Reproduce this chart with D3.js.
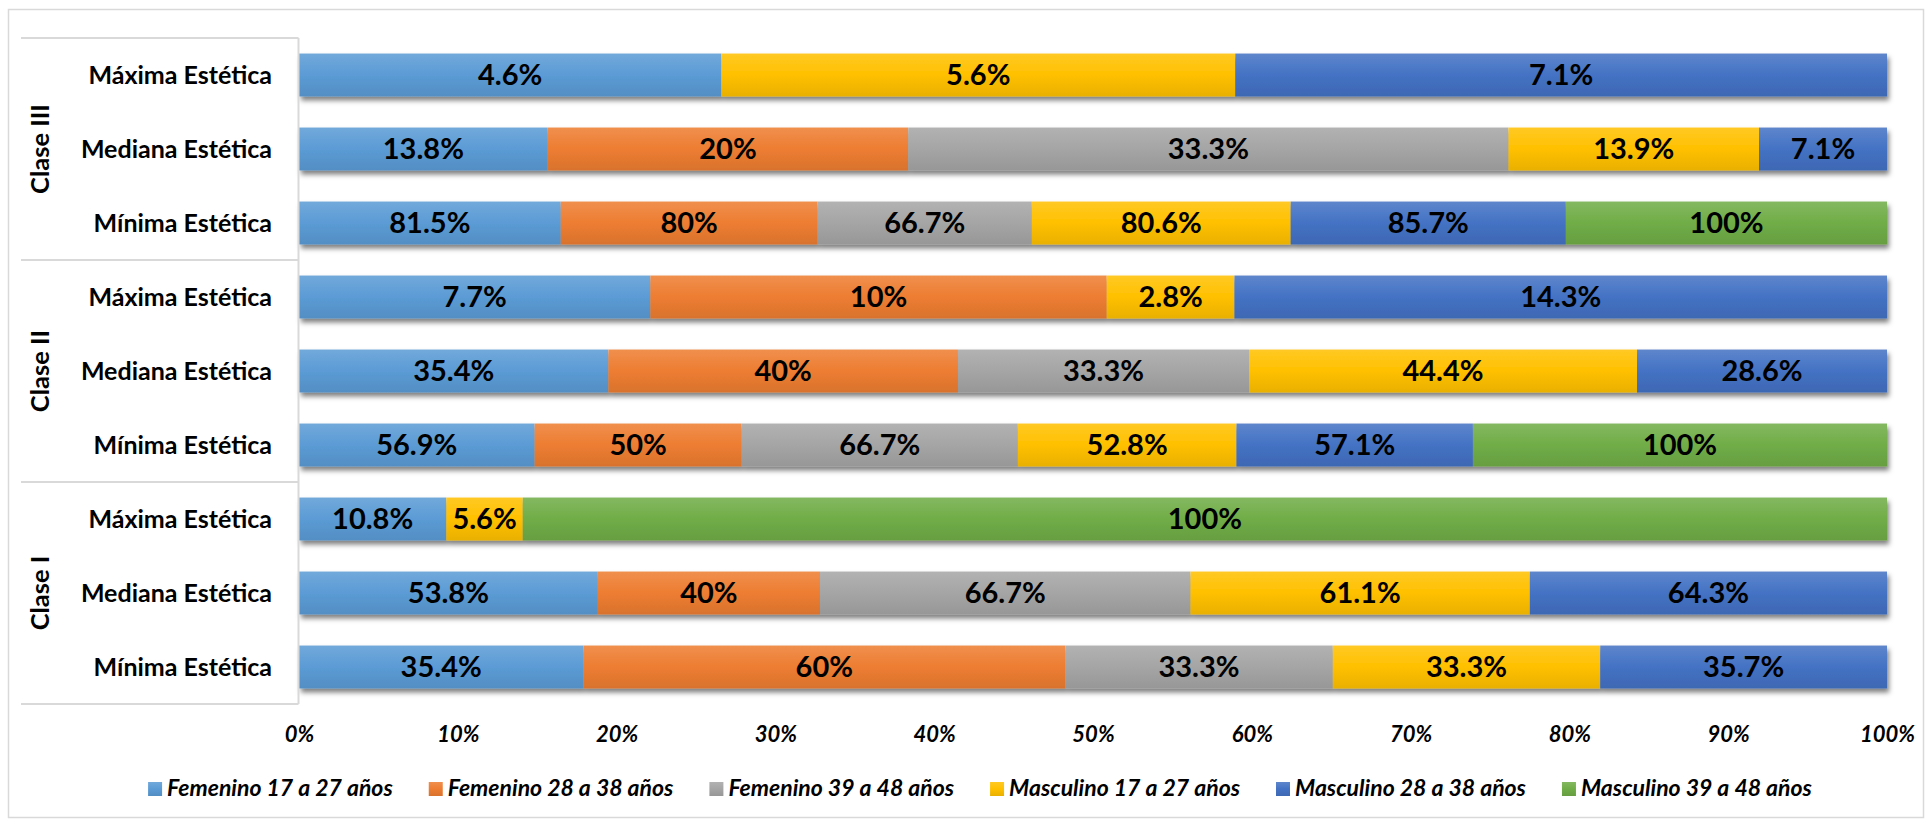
<!DOCTYPE html>
<html>
<head>
<meta charset="utf-8">
<script src="https://cdn.jsdelivr.net/npm/d3@7"></script>
<style>
  body { margin: 0; background: #fff; }
  svg text { font-family: Lato, "Open Sans", sans-serif; }
</style>
</head>
<body>
<div id="chart"></div>
<script>
// rows are listed top to bottom as they appear in the chart
const groups = ["Clase III", "Clase II", "Clase I"];
const levels = ["Máxima Estética", "Mediana Estética", "Mínima Estética"];
const seriesNames = [
    "Femenino 17 a 27 años", "Femenino 28 a 38 años", "Femenino 39 a 48 años",
    "Masculino 17 a 27 años", "Masculino 28 a 38 años", "Masculino 39 a 48 años"
];
const colors = ["#5B9BD5", "#ED7D31", "#A5A5A5", "#FFC000", "#4472C4", "#70AD47"];

const fem17 = [4.6, 13.8, 81.5, 7.7, 35.4, 56.9, 10.8, 53.8, 35.4];
const fem28 = [0, 20, 80, 10, 40, 50, 0, 40, 60];
const fem39 = [0, 33.3, 66.7, 0, 33.3, 66.7, 0, 66.7, 33.3];
const mas17 = [5.6, 13.9, 80.6, 2.8, 44.4, 52.8, 5.6, 61.1, 33.3];
const mas28 = [7.1, 7.1, 85.7, 14.3, 28.6, 57.1, 0, 64.3, 35.7];
const mas39 = [0, 0, 100, 0, 0, 100, 100, 0, 0];

const xTicks = [0, 0.1, 0.2, 0.3, 0.4, 0.5, 0.6, 0.7, 0.8, 0.9, 1];

const seriesValues = [fem17, fem28, fem39, mas17, mas28, mas39];
const keys = seriesNames.map((d, i) => "s" + i);

// build one record per row
const rows = [];
groups.forEach((g, gi) => {
    levels.forEach((l, li) => {
        const idx = gi * levels.length + li;
        const rec = { id: idx, group: g, level: l };
        keys.forEach((k, si) => rec[k] = seriesValues[si][idx]);
        rows.push(rec);
    });
});

const width = 1928, height = 820;
const svg = d3.select("#chart").append("svg")
    .attr("width", width)
    .attr("height", height);

const defs = svg.append("defs");
colors.forEach((c, i) => {
    const grad = defs.append("linearGradient")
        .attr("id", "grad" + i)
        .attr("x1", 0).attr("y1", 0).attr("x2", 0).attr("y2", 1);
    grad.append("stop").attr("offset", "0%").attr("stop-color", d3.interpolateRgb(c, "#fff")(0.14));
    grad.append("stop").attr("offset", "50%").attr("stop-color", c);
    grad.append("stop").attr("offset", "100%").attr("stop-color", d3.color(c).darker(0.25));
});
defs.append("filter")
    .attr("id", "shadow")
    .attr("x", "-2%").attr("y", "-20%").attr("width", "104%").attr("height", "160%")
    .append("feDropShadow")
    .attr("dx", 2).attr("dy", 4).attr("stdDeviation", 2.5)
    .attr("flood-color", "#000").attr("flood-opacity", 0.5);

// chart border
svg.append("rect")
    .attr("x", 8.5).attr("y", 9.5)
    .attr("width", 1915).attr("height", 808)
    .style("fill", "none")
    .style("stroke", "#d9d9d9")
    .style("stroke-width", 1.5);

const plotLeft = 299, plotRight = 1887, plotTop = 38, plotBottom = 704;

const x = d3.scaleLinear().domain([0, 1]).range([plotLeft, plotRight]);
const y = d3.scaleBand()
    .domain(rows.map(r => r.id))
    .range([plotTop, plotBottom])
    .paddingInner(0.42)
    .paddingOuter(0.21);

const stack = d3.stack()
    .keys(keys)
    .offset(d3.stackOffsetExpand);
const stacked = stack(rows);

// bars
const barLayer = svg.append("g").style("filter", "url(#shadow)");
const layers = barLayer.selectAll(".layer")
    .data(stacked)
    .enter()
    .append("g")
    .attr("class", "layer")
    .style("fill", (d, i) => `url(#grad${i})`);

layers.selectAll("rect")
    .data(d => d.filter(p => p[1] - p[0] > 0))
    .enter()
    .append("rect")
    .attr("x", d => x(d[0]))
    .attr("y", d => y(d.data.id))
    .attr("width", d => x(d[1]) - x(d[0]))
    .attr("height", y.bandwidth());

// data labels
const labelLayer = svg.append("g");
stacked.forEach((layer, si) => {
    labelLayer.selectAll(".lbl" + si)
        .data(layer.filter(p => p[1] - p[0] > 0))
        .enter()
        .append("text")
        .attr("x", d => (x(d[0]) + x(d[1])) / 2)
        .attr("y", d => y(d.data.id) + y.bandwidth() / 2)
        .attr("dy", "0.36em")
        .style("text-anchor", "middle")
        .style("font-size", "29px")
        .style("font-weight", "bold")
        .style("fill", "#000")
        .text(d => d.data[keys[si]] + "%");
});

// category axis: lines and labels
const axisColor = "#d9d9d9";
const step = y.step();
svg.append("line")
    .attr("x1", plotLeft - 0.5).attr("x2", plotLeft - 0.5)
    .attr("y1", plotTop).attr("y2", plotBottom)
    .style("stroke", axisColor).style("stroke-width", 2);

const groupEdges = d3.range(groups.length + 1).map(i => plotTop + i * levels.length * step);
svg.selectAll(".sep")
    .data(groupEdges)
    .enter()
    .append("line")
    .attr("x1", 21).attr("x2", plotLeft - 0.5)
    .attr("y1", d => d).attr("y2", d => d)
    .style("stroke", axisColor).style("stroke-width", 2);

svg.selectAll(".cat")
    .data(rows)
    .enter()
    .append("text")
    .attr("x", 272)
    .attr("y", d => y(d.id) + y.bandwidth() / 2)
    .attr("dy", "0.36em")
    .style("text-anchor", "end")
    .style("font-size", "25px")
    .style("font-weight", "bold")
    .style("fill", "#000")
    .text(d => d.level);

svg.selectAll(".grp")
    .data(groups)
    .enter()
    .append("text")
    .attr("transform", (d, i) => `translate(40,${(groupEdges[i] + groupEdges[i + 1]) / 2}) rotate(-90)`)
    .attr("dy", "0.36em")
    .style("text-anchor", "middle")
    .style("font-size", "25.5px")
    .style("font-weight", "bold")
    .style("fill", "#000")
    .text(d => d);

// value axis
const xAxis = svg.append("g")
    .attr("transform", `translate(0,${plotBottom})`)
    .call(d3.axisBottom(x).tickValues(xTicks).tickFormat(d3.format(".0%")).tickSize(0));
xAxis.select(".domain").remove();
xAxis.selectAll("text")
    .attr("y", 38)
    .attr("dy", 0)
    .style("font-family", "Lato, sans-serif")
    .style("font-size", "22px")
    .style("font-weight", "bold")
    .style("font-style", "italic")
    .style("fill", "#000");

// legend
const legend = svg.append("g");
const items = legend.selectAll(".item")
    .data(seriesNames)
    .enter()
    .append("g")
    .attr("class", "item");
items.append("rect")
    .attr("width", 14).attr("height", 14)
    .attr("y", -14)
    .style("fill", (d, i) => `url(#grad${i})`);
items.append("text")
    .attr("x", 19)
    .style("font-size", "23px")
    .style("font-weight", "bold")
    .style("font-style", "italic")
    .style("fill", "#000")
    .text(d => d);

let cursor = 0;
const gap = 36;
items.each(function () {
    const w = 19 + d3.select(this).select("text").node().getComputedTextLength();
    d3.select(this).attr("transform", `translate(${cursor},796)`);
    cursor += w + gap;
});
const legendWidth = cursor - gap;
legend.attr("transform", `translate(${980 - legendWidth / 2},0)`);
</script>
</body>
</html>
